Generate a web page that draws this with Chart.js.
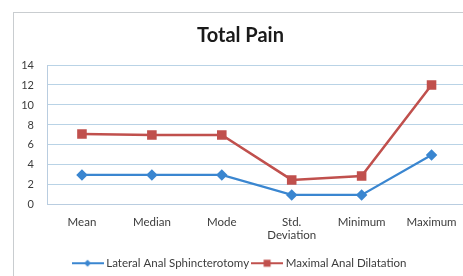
<!DOCTYPE html>
<html><head><meta charset="utf-8">
<script src="https://cdn.jsdelivr.net/npm/chart.js@4"></script>
<style>
html,body{margin:0;padding:0;background:#fff;overflow:hidden}
#box{position:absolute;left:13px;top:12px;width:462px;height:270px;border:1px solid #c9cdd0;box-sizing:border-box;background:#fff}
#wrap{position:absolute;left:0;top:0;width:460px;height:268px}
</style></head><body>
<div id="box"><div id="wrap"><canvas id="c"></canvas></div></div>
<script>
const categories = ["Mean", "Median", "Mode", ["Std.", "Deviation"], "Minimum", "Maximum"];
const lateralAnalSphincterotomy = [3.0, 3.0, 3.0, 1.0, 1.0, 5.0];
const maximalAnalDilatation = [7.1, 7.0, 7.0, 2.5, 2.9, 12.0];
const seriesNames = ["Lateral Anal Sphincterotomy", "Maximal Anal Dilatation"];
const yTicks = [0, 2, 4, 6, 8, 10, 12, 14];

const BLUE = "#3a86d0";
const RED = "#c0504d";
const FONT = "Lato, 'Open Sans', sans-serif";
const TXT = "#3c3c3c";

function legendIcon(color, style){
  const c = document.createElement('canvas');
  c.width = 32; c.height = 10;
  const g = c.getContext('2d');
  g.strokeStyle = color; g.lineWidth = 2;
  g.beginPath(); g.moveTo(0,5); g.lineTo(32,5); g.stroke();
  g.fillStyle = color;
  if (style === 'rectRot'){
    g.beginPath(); g.moveTo(16,1.5); g.lineTo(19.5,5); g.lineTo(16,8.5); g.lineTo(12.5,5); g.closePath(); g.fill();
  } else {
    g.fillRect(12.5,1.5,7,7);
  }
  return c;
}
const icons = [legendIcon(BLUE,'rectRot'), legendIcon(RED,'rect')];

new Chart(document.getElementById('c'), {
  type: 'line',
  data: {
    labels: categories,
    datasets: [
      {label: seriesNames[0], data: lateralAnalSphincterotomy, borderColor: BLUE, backgroundColor: BLUE,
       borderWidth: 2.2, pointStyle: 'rectRot', pointRadius: 4.2, pointHoverRadius: 4.2, tension: 0},
      {label: seriesNames[1], data: maximalAnalDilatation, borderColor: RED, backgroundColor: RED,
       borderWidth: 2.5, pointStyle: 'rect', pointRadius: 5, pointHoverRadius: 5, tension: 0}
    ]
  },
  options: {
    responsive: true, maintainAspectRatio: false, animation: false,
    layout: {padding: {left: 0, right: 7, top: 6, bottom: 2}},
    plugins: {
      title: {display: true, text: 'Total Pain', color: '#1a1a1a',
        font: {family: FONT, size: 20, weight: 'bold'}, padding: {top: 5, bottom: 17}},
      legend: {position: 'bottom',
        labels: {usePointStyle: true, pointStyleWidth: 26, color: TXT, font: {family: FONT, size: 11.5}, padding: 5,
          generateLabels: (chart) => chart.data.datasets.map((d, i) => ({
            text: d.label, pointStyle: icons[i], fillStyle: d.borderColor, strokeStyle: d.borderColor,
            lineWidth: 0, hidden: false, datasetIndex: i, fontColor: TXT}))}},
      tooltip: {enabled: false}
    },
    scales: {
      x: {offset: true, grid: {display: false, drawTicks: false},
        border: {color: '#b9cde0'},
        ticks: {color: TXT, font: {family: FONT, size: 11.5}, padding: 10, maxRotation: 0, autoSkip: false}},
      y: {min: 0, max: 14, afterBuildTicks: (s) => { s.ticks = yTicks.map(v => ({value: v})); },
        afterFit: (s) => { s.width = 33; },
        grid: {color: '#b9d3e6', drawTicks: false},
        border: {display: true, color: '#b9cde0'},
        ticks: {color: TXT, font: {family: FONT, size: 11}, padding: 13}}
    }
  }
});
</script></body></html>
